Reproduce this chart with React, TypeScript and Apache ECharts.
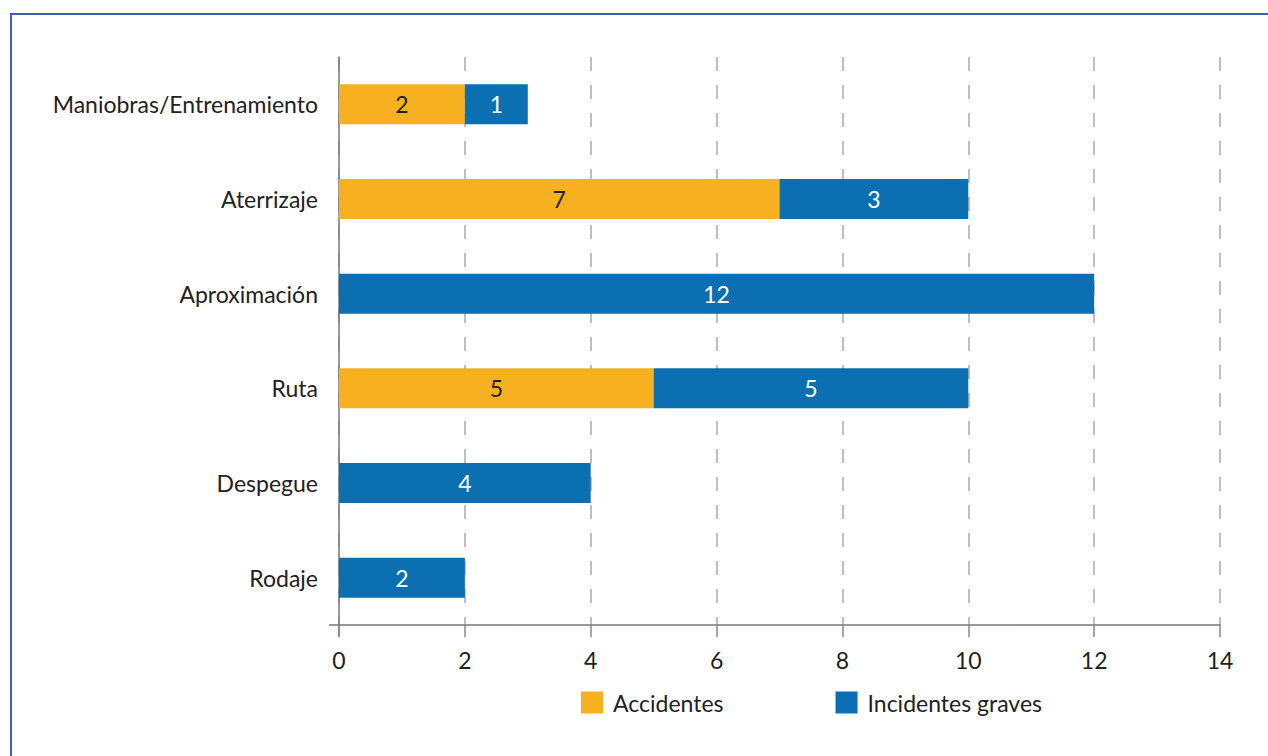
import React, { useEffect, useRef } from "react";
import * as echarts from "echarts";

const categories = [
  "Maniobras/Entrenamiento",
  "Aterrizaje",
  "Aproximación",
  "Ruta",
  "Despegue",
  "Rodaje",
];
const accidentes = [2, 7, null, 5, null, null];
const incidentesGraves = [1, 3, 12, 5, 4, 2];
const xTicks = { min: 0, max: 14, interval: 2 };

const FONT = "Lato, 'Open Sans', sans-serif";
const ORANGE = "#F7B020";
const BLUE = "#0B6FB1";
const FS = 23;

export default function App() {
  const ref = useRef<HTMLDivElement>(null);
  useEffect(() => {
    if (!ref.current) return;
    const chart = echarts.init(ref.current, null, { renderer: "svg" });
    chart.setOption({
      animation: false,
      backgroundColor: "#ffffff",
      textStyle: { fontFamily: FONT },
      grid: { left: 339, right: 48, top: 57, bottom: 131, containLabel: false },
      legend: {
        left: 581,
        top: 691,
        padding: 0,
        itemWidth: 22,
        itemHeight: 22,
        itemGap: 112,
        icon: "rect",
        textStyle: { fontSize: FS, color: "#222", fontFamily: FONT, padding: [0, 0, 0, 5] },
        data: ["Accidentes", "Incidentes graves"],
      },
      xAxis: {
        type: "value",
        min: xTicks.min,
        max: xTicks.max,
        interval: xTicks.interval,
        axisLine: { show: true, lineStyle: { color: "#777", width: 1.5 } },
        axisTick: { show: true, length: 12, lineStyle: { color: "#888", width: 1.5 } },
        axisLabel: { fontSize: FS, color: "#222", margin: 23, fontFamily: FONT },
        splitLine: {
          show: true,
          lineStyle: { color: "#aaa", type: [14, 14], width: 1.5 },
        },
      },
      yAxis: {
        type: "category",
        inverse: true,
        data: categories,
        axisLine: { show: true, lineStyle: { color: "#777", width: 1.5 } },
        axisTick: { show: false },
        axisLabel: { fontSize: FS, color: "#222", margin: 21, fontFamily: FONT },
      },
      series: [
        {
          name: "Accidentes",
          type: "bar",
          stack: "total",
          barWidth: 40,
          data: accidentes,
          itemStyle: { color: ORANGE },
          label: { show: true, position: "inside", color: "#222", fontSize: FS, fontFamily: FONT },
        },
        {
          name: "Incidentes graves",
          type: "bar",
          stack: "total",
          barWidth: 40,
          data: incidentesGraves,
          itemStyle: { color: BLUE },
          label: { show: true, position: "inside", color: "#fff", fontSize: FS, fontFamily: FONT },
        },
      ],
      graphic: [
        {
          type: "rect",
          silent: true,
          shape: { x: 11, y: 14, width: 1400, height: 900 },
          style: { fill: "none", stroke: "#3D5DB8", lineWidth: 2 },
          z: -1,
        },
        {
          type: "line",
          silent: true,
          shape: { x1: 329, y1: 625, x2: 339, y2: 625 },
          style: { stroke: "#777", lineWidth: 1.5 },
        },
        {
          type: "line",
          silent: true,
          shape: { x1: 339, y1: 625, x2: 339, y2: 637 },
          style: { stroke: "#777", lineWidth: 1.5 },
        },
      ],
    });
    return () => chart.dispose();
  }, []);
  return (
    <div
      ref={ref}
      style={{ position: "fixed", left: 0, top: 0, width: 1268, height: 756 }}
    />
  );
}
